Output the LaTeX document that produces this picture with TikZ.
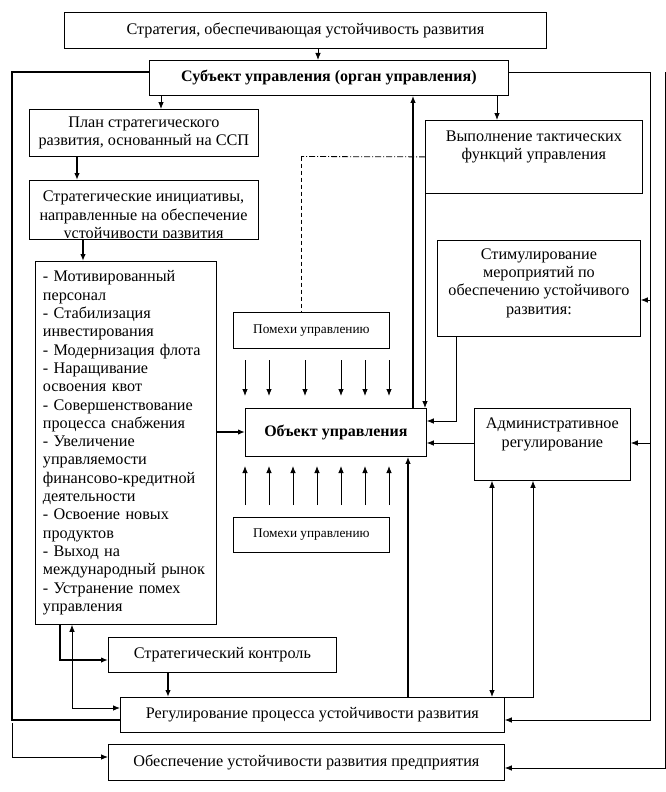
\documentclass[tikz,border=0pt]{standalone}
\usepackage{fontspec}
\setmainfont{Liberation Serif}
\usetikzlibrary{arrows.meta,calc}
\begin{document}
\begin{tikzpicture}[x=1pt,y=-1pt,
  bx/.style={draw, line width=0.8pt, inner sep=0pt, align=center, anchor=north west,
             font=\fontsize{16.2}{18.3}\selectfont},
  sm/.style={bx, font=\fontsize{13.3}{15}\selectfont},
  bbx/.style={bx, font=\fontsize{16}{18.3}\selectfont\bfseries},
  txt/.style={inner sep=0pt, align=center, font=\fontsize{16.2}{18.3}\selectfont},
  thin/.style={line width=0.8pt},
  thk/.style={line width=2pt},
  arr/.style={-{Latex[length=7pt,width=5.5pt]}},
  dblarr/.style={{Latex[length=7pt,width=5.5pt]}-{Latex[length=7pt,width=5.5pt]}}
]
\useasboundingbox (0,0) rectangle (666,792);

% boxes
\node[bx, minimum width=482pt, minimum height=36pt] (strat) at (64,12)
  {Стратегия, обеспечивающая устойчивость развития};
\node[bbx, minimum width=359pt, minimum height=35pt] (subj) at (149,60)
  {Субъект управления (орган управления)};
\node[bx, minimum width=229pt, minimum height=47pt] (plan) at (29,109)
  {План стратегического\\развития, основанный на ССП};
\node[bx, minimum width=229pt, minimum height=59pt] (init) at (29,180) {};
\begin{scope}
  \clip (init.north west) rectangle ($(init.south east)+(0,-2.5)$);
  \node[txt] (initt) at (143.5,216.5)
    {Стратегические инициативы,\\направленные на обеспечение\\устойчивости развития};
\end{scope}
\node[bx, minimum height=363pt, text width=166pt, inner xsep=7.5pt, inner ysep=0pt, align=left] (list) at (35,261)
  {- Мотивированный\\персонал\\- Стабилизация\\инвестирования\\- Модернизация флота\\- Наращивание\\освоения квот\\- Совершенствование\\процесса снабжения\\- Увеличение\\управляемости\\финансово-кредитной\\деятельности\\- Освоение новых\\продуктов\\- Выход на\\международный рынок\\- Устранение помех\\управления};
\node[bx, minimum width=217pt, minimum height=73pt] (vyp) at (425,120)
  {Выполнение тактических\\функций управления\\\strut};
\node[bx, minimum width=203pt, minimum height=96pt] (stim) at (437,240)
  {Стимулирование\\мероприятий по\\обеспечению устойчивого\\развития:\\[-4pt]};
\node[sm, minimum width=156pt, minimum height=36pt] (pom1) at (233,312)
  {Помехи управлению};
\node[bbx, minimum width=181pt, minimum height=48pt] (obj) at (245,408)
  {Объект управления};
\node[bx, minimum width=156pt, minimum height=72pt] (adm) at (474,408)
  {Административное\\регулирование\\\strut};
\node[sm, minimum width=156pt, minimum height=35pt] (pom2) at (233,517)
  {Помехи управлению};
\node[bx, minimum width=228pt, minimum height=35pt] (sk) at (108,637)
  {Стратегический контроль};
\node[bx, minimum width=384pt, minimum height=35pt] (reg) at (120,697)
  {Регулирование процесса устойчивости развития};
\node[bx, minimum width=396pt, minimum height=36pt] (obesp) at (108,744)
  {Обеспечение устойчивости развития предприятия};

% top chain
\draw[thin,arr] (strat.south -| 318,0) -- (subj.north -| 318,0);
\draw[thin,arr] (subj.south -| 161,0) -- (plan.north -| 161,0);
\draw[thk,arr] (plan.south -| 77,0) -- (init.north -| 77,0);
\draw[thk,arr] (init.south -| 83,0) -- (list.north -| 83,0);
\draw[thin,arr] (subj.south -| 497,0) -- (vyp.north -| 497,0);

% dash-dot from vyp to pom1
\draw[thin, dash pattern=on 6pt off 2pt on 1pt off 2pt] (vyp.west) -- (301,156.5);
\draw[thin, dash pattern=on 4pt off 3pt] (301,156.5) -- (pom1.north -| 301,0);

% interference arrows
\foreach \xx in {245,269,305,341,365,389}
  \draw[thin,arr] (\xx,360) -- (\xx,396);
\foreach \xx in {245,269,293,317,341,365,389}
  \draw[thin,arr] (\xx,505) -- (\xx,466);

% into object
\draw[thk,arr] (list.east |- 0,432) -- (obj.west |- 0,432);
\draw[thk,arr] (obj.north -| 413,0) -- (subj.south -| 413,0);
\draw[thk,arr] (reg.north -| 408,0) -- (obj.south -| 408,0);
\draw[thin,arr] (vyp.south west) -- (vyp.south west |- obj.north);
\draw[thin,arr] (stim.south -| 456,0) |- (obj.east |- 0,421);
\draw[thin,arr] (adm.west |- 0,443) -- (obj.east |- 0,443);

% right feedback lines
\coordinate (r1) at (650,72);
\draw[thin,arr] (subj.east |- r1) -- (r1) |- (reg.east |- 0,720);
\draw[thin,arr] (650,300) -- (stim.east |- 0,300);
\draw[thin,arr] (650,443) -- (adm.east |- 0,443);
\coordinate (r2) at (665,72);
\draw[thin,arr] (r2) |- (obesp.east |- 0,768);

% adm <-> reg
\draw[thin,dblarr] (adm.south -| 492,0) -- (reg.north -| 492,0);
\draw[thin,arr] (reg.north east) -- (533,697) -- (adm.south -| 533,0);

% left side
\draw[thk,arr] (list.south -| 60,0) |- (sk.west |- 0,660);
\draw[thin,dblarr] (list.south -| 72,0) |- (reg.west |- 0,708);
\draw[thk,arr] (sk.south -| 168,0) -- (reg.north -| 168,0);
\coordinate (l1) at (12,72);
\draw[thk] (subj.west |- l1) -- (l1) |- (reg.west |- 0,720);
\coordinate (l2) at (12,723);
\draw[thin,arr] (l2) |- (obesp.west |- 0,757);
\end{tikzpicture}
\end{document}
